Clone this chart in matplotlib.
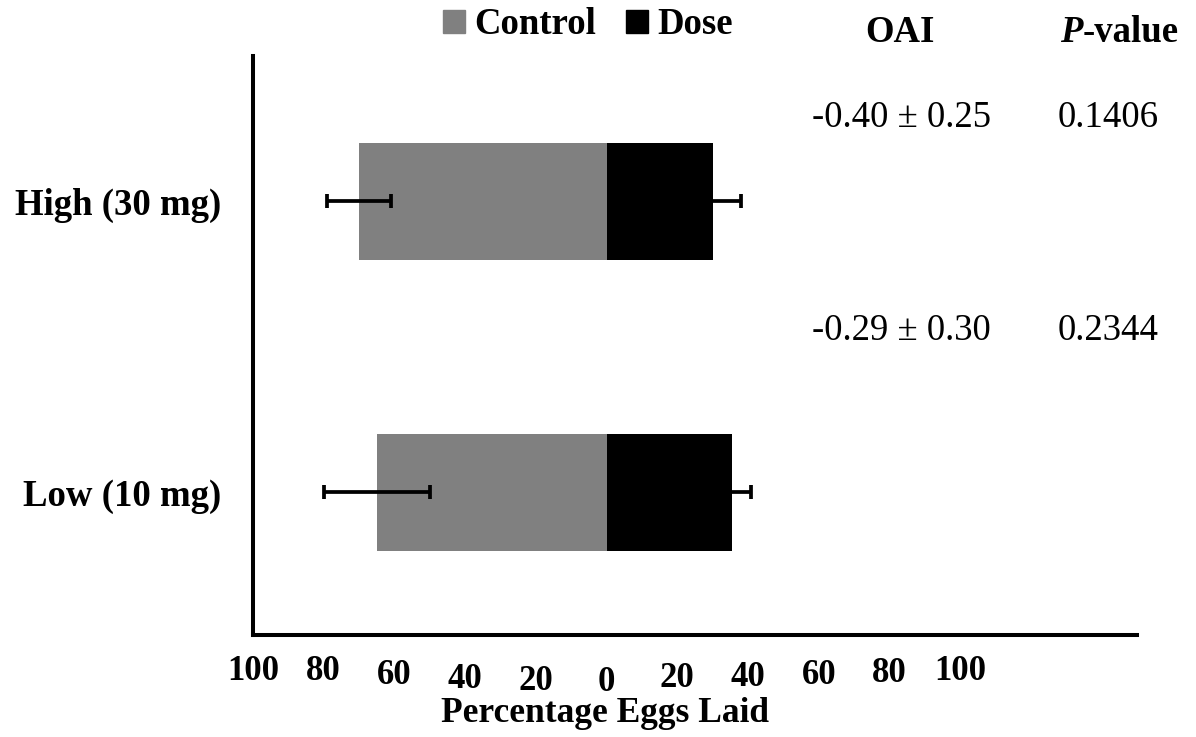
import matplotlib
matplotlib.use("Agg")
import matplotlib.pyplot as plt
from matplotlib.patches import Patch

# ---- data ----
groups = ['Low (10 mg)', 'High (30 mg)']
control = [65, 70]
control_err = [15, 9]
dose = [35.5, 30]
dose_err = [5.3, 8]
oai_text = ['-0.29 \u00b1 0.30', '-0.40 \u00b1 0.25']
p_text = ['0.2344', '0.1406']
tick_vals = [-100, -80, -60, -40, -20, 0, 20, 40, 60, 80, 100]
tick_labels = ['100', '80', '60', '40', '20', '0', '20', '40', '60', '80', '100']
tick_drop_px = [0, 0, 4, 8, 10, 11, 7, 6, 4, 2, 0]

plt.rcParams['font.family'] = ['Liberation Serif', 'DejaVu Serif']

W, H = 1196, 737
fig = plt.figure(figsize=(W / 100, H / 100), dpi=100)
ax = fig.add_axes([253 / W, 1 - 635 / H, (1137 - 253) / W, (635 - 56) / H])

ypos = [0, 1]
neg_control = [-c for c in control]
ax.barh(ypos, neg_control, height=0.4, color='#808080', zorder=2)
ax.barh(ypos, dose, height=0.4, color='black', zorder=2)
ax.errorbar(neg_control, ypos, xerr=control_err, fmt='none', ecolor='black',
            elinewidth=2.7, capsize=5, capthick=2.7, zorder=3)
ax.errorbar(dose, ypos, xerr=dose_err, fmt='none', ecolor='black',
            elinewidth=2.7, capsize=5, capthick=2.7, zorder=3)

ax.set_xlim(-100, 150)
ax.set_ylim(-0.49, 1.5)

for s in ['top', 'right']:
    ax.spines[s].set_visible(False)
for s in ['left', 'bottom']:
    ax.spines[s].set_linewidth(2.9)
    ax.spines[s].set_capstyle('projecting')

ax.set_xticks([])
ax.set_yticks(ypos)
ax.set_yticklabels(groups, fontsize=26.5, fontweight='bold')
ax.tick_params(axis='y', length=0, pad=23)

for v, lab, d in zip(tick_vals, tick_labels, tick_drop_px):
    ax.annotate(lab, xy=(v, 0), xycoords=('data', 'axes fraction'),
                xytext=(0, -(680 - 635 + d) * 0.72), textcoords='offset points',
                ha='center', va='baseline', fontsize=25, fontweight='bold')

fig.text(605 / W, 1 - 722 / H, 'Percentage Eggs Laid', ha='center', va='baseline',
         fontsize=25.5, fontweight='bold')

# legend
handles = [Patch(color='#808080', label='Control'), Patch(color='black', label='Dose')]
fig.legend(handles=handles, loc='center', bbox_to_anchor=(588 / W, 1 - 25 / H),
           ncol=2, frameon=False, handlelength=0.6, handleheight=0.6,
           handletextpad=0.25, columnspacing=0.8, borderpad=0, borderaxespad=0,
           prop={'family': 'Liberation Serif', 'weight': 'bold', 'size': 26.5})

# column headers
fig.text(900 / W, 1 - 33 / H, 'OAI', ha='center', va='center', fontsize=26.5, fontweight='bold')
px = 1083
fig.text(px / W, 1 - 33 / H, 'P', ha='right', va='center', fontsize=26.5,
         fontweight='bold', fontstyle='italic')
fig.text(px / W, 1 - 33 / H, '-value', ha='left', va='center', fontsize=26.5, fontweight='bold')

# OAI and P values
row_y = [331, 118]
for y, o, p in zip(row_y, oai_text, p_text):
    fig.text(901 / W, 1 - y / H, o, ha='center', va='center', fontsize=26.5)
    fig.text(1108 / W, 1 - y / H, p, ha='center', va='center', fontsize=26.5)

fig.savefig('out.png', dpi=100)
